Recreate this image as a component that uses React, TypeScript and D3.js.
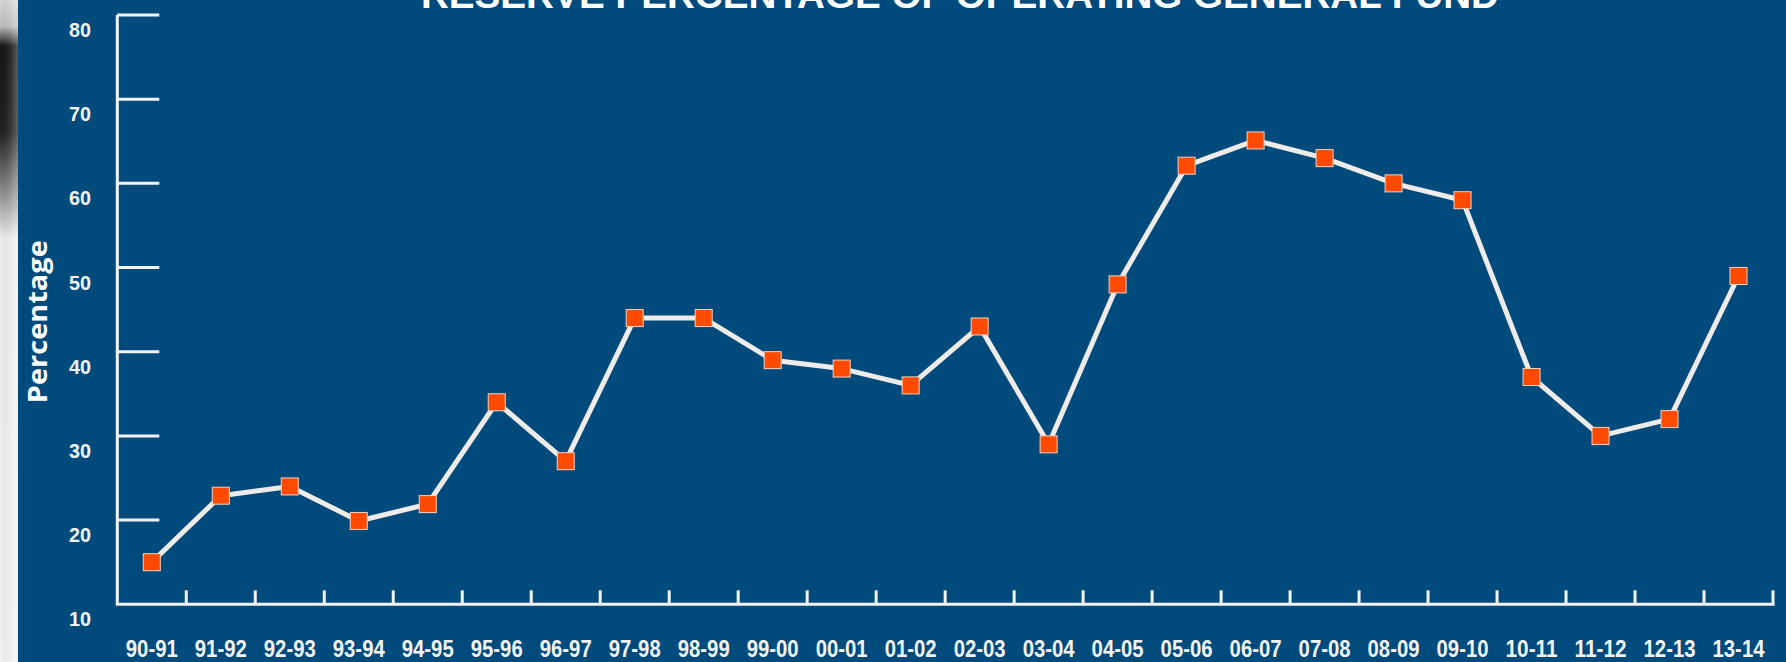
import React from "react";
import * as d3 from "d3";

const categories = ["90-91","91-92","92-93","93-94","94-95","95-96","96-97","97-98","98-99","99-00","00-01","01-02","02-03","03-04","04-05","05-06","06-07","07-08","08-09","09-10","10-11","11-12","12-13","13-14"];
const reservePct = [15, 22.9, 24, 19.9, 21.9, 34, 27, 44, 44, 39, 38, 36, 43, 29, 48, 62.1, 65.1, 63, 60, 58, 37, 30, 32, 49];
const yTicks = [10, 20, 30, 40, 50, 60, 70, 80];
const title = "RESERVE PERCENTAGE OF OPERATING GENERAL FUND";
const yLabel = "Percentage";

const W = 1786;
const H = 662;
const BG = "#004a7c";
const FG = "#f3f3f3";

export default function App() {
  const x = d3.scaleBand<string>().domain(categories).range([117.3, 1773]).padding(0);
  const y = d3.scaleLinear().domain([10, 80]).range([604.3, 15]);
  const line = d3
    .line<number>()
    .x((_, i) => (x(categories[i]) as number) + x.bandwidth() / 2)
    .y((d) => y(d));
  const x0 = x.range()[0];
  const x1 = x.range()[1];
  const condensed = "'Liberation Sans Narrow', 'Arial Narrow', 'Liberation Sans', sans-serif";
  return (
    <svg
      width={W}
      height={H}
      style={{ position: "absolute", left: 0, top: 0, display: "block" }}
    >
      <defs>
        <linearGradient id="edge" x1="0" y1="0" x2="0" y2="1">
          <stop offset="0" stopColor="#d8d8d8" />
          <stop offset="0.04" stopColor="#bdbdbd" />
          <stop offset="0.07" stopColor="#151515" />
          <stop offset="0.2" stopColor="#202020" />
          <stop offset="0.3" stopColor="#9a9a9a" />
          <stop offset="0.36" stopColor="#eeeeee" />
          <stop offset="1" stopColor="#f2f2f2" />
        </linearGradient>
        <linearGradient id="edgeH" x1="0" y1="0" x2="1" y2="0">
          <stop offset="0" stopColor="#000" stopOpacity="0" />
          <stop offset="0.7" stopColor="#fff" stopOpacity="0.15" />
          <stop offset="1" stopColor="#fff" stopOpacity="0.3" />
        </linearGradient>
      </defs>
      <rect x={0} y={0} width={W} height={H} fill={BG} />
      <rect x={0} y={0} width={18} height={H} fill="url(#edge)" />
      <rect x={0} y={0} width={18} height={H} fill="url(#edgeH)" />

      {/* title */}
      <text
        x={421}
        y={8}
        textLength={1078}
        lengthAdjust="spacingAndGlyphs"
        fill="#ffffff"
        fontFamily="'Liberation Sans', Arial, sans-serif"
        fontWeight="bold"
        fontSize={36}
      >
        {title}
      </text>

      {/* y axis */}
      <line x1={x0} y1={y(80)} x2={x0} y2={y(10)} stroke={FG} strokeWidth={3} />
      {yTicks.filter((t) => t > 10).map((t) => (
        <line key={"yt" + t} x1={x0} x2={x0 + 42} y1={y(t)} y2={y(t)} stroke={FG} strokeWidth={3} />
      ))}
      {yTicks.map((t) => (
        <text
          key={"yl" + t}
          x={80}
          y={y(t) + 22}
          textAnchor="middle"
          fill={FG}
          fontFamily={condensed}
          fontWeight="bold"
          fontSize={21}
          textLength={22}
          lengthAdjust="spacingAndGlyphs"
        >
          {t}
        </text>
      ))}
      <text
        transform={`translate(47,321.7) rotate(-90)`}
        textAnchor="middle"
        fill="#ffffff"
        fontFamily="'Open Sans', sans-serif"
        fontWeight="bold"
        fontSize={26}
        textLength={163}
        lengthAdjust="spacingAndGlyphs"
      >
        {yLabel}
      </text>

      {/* x axis */}
      <line x1={x0 - 1.5} y1={y(10)} x2={x1 + 1.5} y2={y(10)} stroke={FG} strokeWidth={3} />
      {categories.map((c) => {
        const xr = (x(c) as number) + x.bandwidth();
        return <line key={"xt" + c} x1={xr} x2={xr} y1={y(10)} y2={y(10) - 14} stroke={FG} strokeWidth={3} />;
      })}
      {categories.map((c) => (
        <text
          key={"xl" + c}
          x={(x(c) as number) + x.bandwidth() / 2}
          y={657}
          textAnchor="middle"
          fill={FG}
          fontFamily={condensed}
          fontWeight="bold"
          fontSize={23}
          textLength={52}
          lengthAdjust="spacingAndGlyphs"
        >
          {c}
        </text>
      ))}

      {/* series */}
      <path d={line(reservePct) || ""} fill="none" stroke="#efebe8" strokeWidth={5} strokeLinejoin="round" />
      {reservePct.map((v, i) => (
        <rect
          key={"m" + i}
          x={(x(categories[i]) as number) + x.bandwidth() / 2 - 8.5}
          y={y(v) - 8.5}
          width={17}
          height={17}
          fill="#ff4a00"
          stroke="#f6d2c2"
          strokeWidth={1}
        />
      ))}
    </svg>
  );
}
